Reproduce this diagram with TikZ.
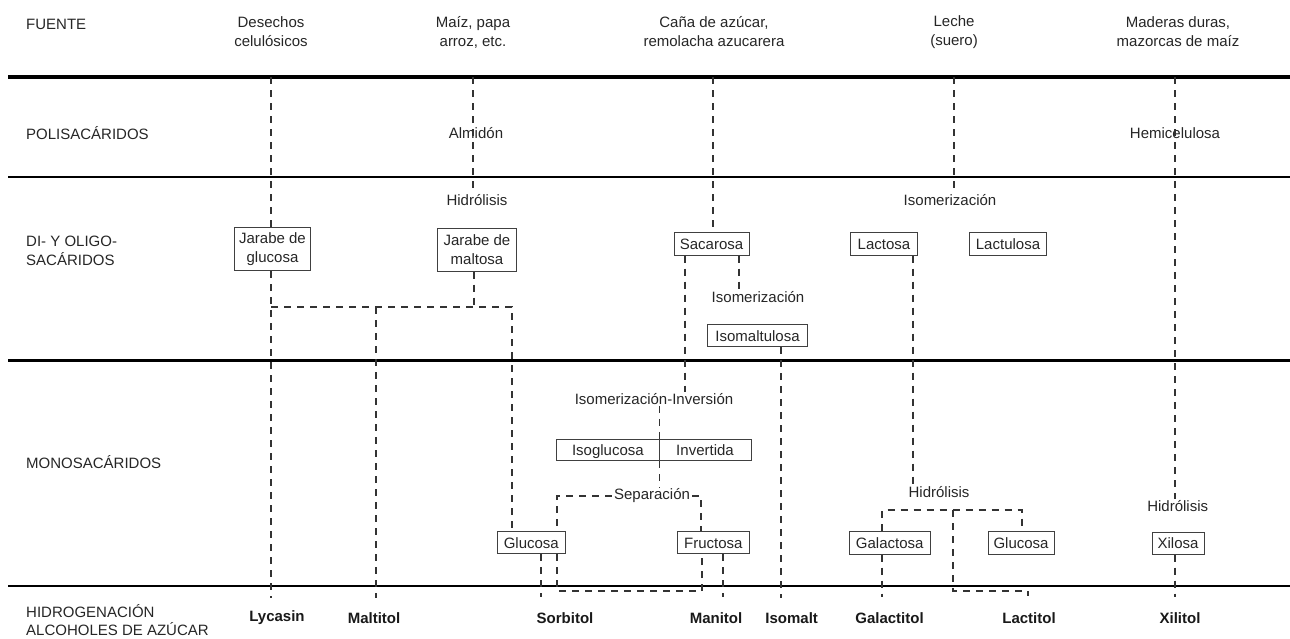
\documentclass[tikz,border=0pt]{standalone}
\usepackage{fontspec}
\setmainfont{Liberation Sans}
\begin{document}
\begin{tikzpicture}[x=1pt,y=-1pt,
  txt/.style={font=\fontsize{15}{19}\selectfont, text=black!85, inner sep=1pt},
  box/.style={txt, draw=black!75, line width=1pt, inner sep=0pt, minimum height=23pt, align=center},
  sbox/.style={box, text height=12.5pt, text depth=1.5pt},
  lab/.style={txt, anchor=west, align=left},
  hdr/.style={txt, align=center},
  alc/.style={font=\fontsize{15}{19}\selectfont\bfseries, text=black!90},
  conn/.style={draw=black!80, line width=1.1pt, dash pattern=on 7pt off 6pt},
  rulel/.style={draw=black, line width=#1}]
\useasboundingbox (0,0) rectangle (1290,638);

% horizontal rules
\draw[rulel=3.5pt] (8,77) -- (1290,77);
\draw[rulel=2.5pt] (8,177) -- (1290,177);
\draw[rulel=3pt] (8,360) -- (1290,360);
\draw[rulel=2pt] (8,586) -- (1290,586);

% row labels
\node[lab] (fuente) at (25,24) {FUENTE};
\node[lab] (poli) at (25,133) {POLISACÁRIDOS};
\node[lab] (dio) at (25,251) {DI- Y OLIGO-\\SACÁRIDOS};
\node[lab] (mono) at (25,462) {MONOSACÁRIDOS};
\node[lab, font=\fontsize{15}{18}\selectfont] (hidrog) at (25,620.5) {HIDROGENACIÓN\\ALCOHOLES DE AZÚCAR};

% sources
\node[hdr] (src1) at (271,32) {Desechos\\celulósicos};
\node[hdr] (src2) at (473,32) {Maíz, papa\\arroz, etc.};
\node[hdr] (src3) at (714,32) {Caña de azúcar,\\remolacha azucarera};
\node[hdr] (src4) at (954,32) {Leche\\(suero)};
\node[hdr] (src5) at (1178,32) {Maderas duras,\\mazorcas de maíz};

\coordinate (c1) at (271,77);
\coordinate (c2) at (473,77);
\coordinate (c3) at (713,77);
\coordinate (c4) at (954,77);
\coordinate (c5) at (1175,77);

% polysaccharides
\node[txt] (almidon) at (476,133) {Almidón};
\node[txt] (hemi) at (1175,133) {Hemicelulosa};

% di- and oligosaccharides
\node[txt] (hidro1) at (477,200) {Hidrólisis};
\node[txt] (isom1) at (950,200) {Isomerización};
\node[box, minimum width=76pt, minimum height=43pt] (jgluc) at (272.5,249.2) {Jarabe de\\glucosa};
\node[box, minimum width=79pt, minimum height=43pt] (jmalt) at (477,249.5) {Jarabe de\\maltosa};
\node[sbox, minimum width=75pt] (sacarosa) at (711.5,243.7) {Sacarosa};
\node[sbox, minimum width=67pt] (lactosa) at (884,243.5) {Lactosa};
\node[sbox, minimum width=77pt] (lactulosa) at (1008,243.5) {Lactulosa};
\node[txt] (isom2) at (758,297) {Isomerización};
\node[sbox, minimum width=100pt, minimum height=22pt] (isomaltulosa) at (757.5,335.5) {Isomaltulosa};

% monosaccharides
\node[txt] (isoinv) at (654,399) {Isomerización-Inversión};
\node[sbox, minimum width=102.3pt, minimum height=21.5pt] (isog) at (607.85,450) {Isoglucosa};
\node[sbox, minimum width=92pt, minimum height=21.5pt] (invert) at (705,450) {Invertida};
\node[txt, fill=white, inner xsep=2pt] (separ) at (652,496) {Separación};
\node[sbox, minimum width=68pt, minimum height=22pt] (glucosa) at (531.3,542.5) {Glucosa};
\node[sbox, minimum width=72pt, minimum height=22pt] (fructosa) at (713.3,542.5) {Fructosa};
\node[txt] (hidro2) at (939,492) {Hidrólisis};
\node[sbox, minimum width=81pt] (galactosa) at (889.7,542.5) {Galactosa};
\node[sbox, minimum width=66pt] (glucosa2) at (1021,542.5) {Glucosa};
\node[txt] (hidro3) at (1177.7,506) {Hidrólisis};
\node[sbox, minimum width=52pt, minimum height=22pt] (xilosa) at (1178,543) {Xilosa};

% sugar alcohols
\node[alc] (lycasin) at (277,618) {Lycasin};
\node[alc] (maltitol) at (374,618) {Maltitol};
\node[alc] (sorbitol) at (565,618) {Sorbitol};
\node[alc] (manitol) at (716,618) {Manitol};
\node[alc] (isomalt) at (791.7,618) {Isomalt};
\node[alc] (galactitol) at (889.5,618) {Galactitol};
\node[alc] (lactitol) at (1029,618) {Lactitol};
\node[alc] (xilitol) at (1180,618) {Xilitol};

% junction / end coordinates
\coordinate (e1) at (271,598);
\coordinate (j1) at (271,307);
\coordinate (jm) at (474,307);
\coordinate (j2) at (512,307);
\coordinate (j3) at (376,307);
\coordinate (e2) at (376,598);
\coordinate (s1) at (685,360);
\coordinate (s2) at (739,300);
\coordinate (e3) at (781,598);
\coordinate (sp1) at (557,496);
\coordinate (sp2) at (701,496);
\coordinate (b1) at (557,591);
\coordinate (b2) at (702,591);
\coordinate (g1) at (541,597);
\coordinate (f1) at (723,597);
\coordinate (l1) at (913,400);
\coordinate (h1) at (882,510);
\coordinate (h2) at (1022,510);
\coordinate (h3) at (953,510);
\coordinate (h4) at (953,591);
\coordinate (h5) at (1028,591);
\coordinate (e4) at (1028,596);
\coordinate (e5) at (882,597);
\coordinate (e6) at (1175,597);

% connectors
\draw[conn] (c1) -- (c1 |- jgluc.north);
\draw[conn] (jgluc.south -| c1) -- (e1);
\draw[conn] (c2) -- (c2 |- hidro1.north);
\draw[conn] (jmalt.south -| jm) -- (jm);
\draw[conn] (j1) -- (j2) -- (j2 |- glucosa.north);
\draw[conn] (j3) -- (e2);
\draw[conn] (c3) -- (c3 |- sacarosa.north);
\draw[conn] (sacarosa.south -| s1) -- (s1 |- isoinv.north);
\draw[conn] (sacarosa.south -| s2) -- (s2 |- isom2.north);
\draw[conn] (isomaltulosa.south -| e3) -- (e3);
\draw[conn] (isoinv.south -| isog.east) -- (isog.north east);
\draw[conn] (isog.south east) -- (isog.east |- separ.north);
\draw[conn] (separ.west) -- (sp1) -- (sp1 |- glucosa.north);
\draw[conn] (separ.east) -- (sp2) -- (sp2 |- fructosa.north);
\draw[conn] (glucosa.south -| b1) -- (b1) -- (b2) -- (b2 |- fructosa.south);
\draw[conn] (glucosa.south -| g1) -- (g1);
\draw[conn] (fructosa.south -| f1) -- (f1);
\draw[conn] (c4) -- (c4 |- isom1.north);
\draw[conn] (lactosa.south -| l1) -- (l1 |- hidro2.north);
\draw[conn] (galactosa.north -| h1) -- (h1) -- (h2) -- (h2 |- glucosa2.north);
\draw[conn] (h3) -- (h4) -- (h5) -- (e4);
\draw[conn] (galactosa.south -| e5) -- (e5);
\draw[conn] (c5) -- (c5 |- hidro3.north);
\draw[conn] (xilosa.south -| e6) -- (e6);
\end{tikzpicture}
\end{document}
